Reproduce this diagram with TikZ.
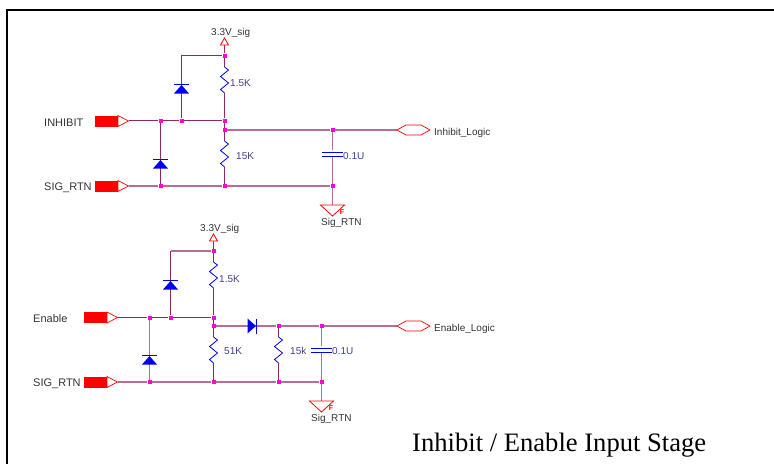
\documentclass[tikz,border=0pt]{standalone}
\usepackage{fontspec}
\setmainfont{Liberation Serif}
\newfontfamily\labelfont{Liberation Sans}
\usepackage{tikz}
\definecolor{wiredark}{HTML}{8E2A62}
\definecolor{wirelight}{HTML}{B56E98}
\definecolor{partblue}{HTML}{0000F0}
\definecolor{valueblue}{HTML}{40408C}
\definecolor{jnpink}{HTML}{FF00E0}
\tikzset{
  diodepart/.pic={
    \fill[partblue] (-7.5,4.5) -- (7.5,4.5) -- (0,-4) -- cycle;
    \draw[partblue,line width=.8pt] (-7.5,-4.5) -- (7.5,-4.5);
  },
  inport/.pic={
    \fill[red] (0,-5.5) rectangle (23,5.5);
    \draw[red,fill=white,line width=.7pt] (23,-5.5) -- (33.5,0) -- (23,5.5) -- cycle;
  },
  outport/.pic={
    \draw[red,fill=white,line width=.7pt] (0,0) -- (9,-5) -- (24,-5) -- (33,0) -- (24,5) -- (9,5) -- cycle;
  },
  powerpart/.pic={
    \draw[red,fill=white,line width=.8pt] (-4,7) -- (0,0) -- (4,7) -- cycle;
  },
  groundpart/.pic={
    \draw[red,fill=white,line width=.8pt] (-12,0) -- (12,0) -- (0,11) -- cycle;
    \node[text=red,font=\labelfont\bfseries,scale=.7] at (9.5,7) {F};
  },
  cappart/.pic={
    \draw[partblue,line width=.8pt] (-10.5,-2) -- (10.5,-2) (-10.5,2) -- (10.5,2);
  }
}
\begin{document}
\begin{tikzpicture}[x=1pt,y=-1pt]
\tikzstyle{every node}=[inner sep=0pt]
\tikzstyle{jn}=[fill=jnpink,minimum size=4pt]
\tikzstyle{wire}=[draw=wiredark,line width=1.1pt]
\tikzstyle{wirelt}=[draw=wirelight,line width=1.6pt]
\tikzstyle{res}=[draw=partblue,line width=.8pt]
\tikzstyle{txt}=[font=\labelfont\fontsize{10}{11}\selectfont,text=black!80,anchor=west,yshift=-1.5pt]
\tikzstyle{big}=[font=\labelfont\fontsize{11}{12}\selectfont,text=black!80,anchor=west,yshift=-1pt]
\tikzstyle{val}=[font=\labelfont\fontsize{10}{11}\selectfont,text=valueblue,anchor=west,yshift=-1pt]
\def \zig {-- ++(4,3) -- ++(-8,6.5) -- ++(8,6.5) -- ++(-8,6.5) -- ++(4,3.5)}
\useasboundingbox (0,0) rectangle (774,464);
\draw[line width=2pt] (6.5,464) -- (6.5,10) -- (774,10);

% inhibit stage
\node[jn] (j1top) at (224.5,55.5) {};
\node[jn] (j1in) at (224.5,120.5) {};
\node[jn] (j1d) at (181.5,120.5) {};
\node[jn] (j1a) at (160.5,120.5) {};
\node[jn] (j1mid) at (224.5,130) {};
\node[jn] (j1out) at (332.5,130) {};
\node[jn] (j1ra) at (160.5,186) {};
\node[jn] (j1rb) at (224.5,186) {};
\node[jn] (j1rc) at (332.5,186) {};
\coordinate (p1in) at (128.5,120.5);
\coordinate (p1rtn) at (128.5,186);
\coordinate (p1out) at (397,130);
\coordinate (p1pw) at (224.5,45);
\coordinate (p1dt) at (181.5,55.5);
\coordinate (p1gnd) at (332.5,205);
\coordinate (r1at) at (224.5,67);
\coordinate (r1ab) at (224.5,93);
\coordinate (r1bt) at (224.5,141);
\coordinate (r1bb) at (224.5,167);
\coordinate (c1t) at (332.5,150);
\coordinate (c1b) at (332.5,157);
\draw[wire] (p1pw) -- (j1top);
\draw[wire] (j1top) -- (p1dt) -- (j1d);
\draw[wire] (j1top) -- (r1at);
\draw[wire] (r1ab) -- (j1in);
\draw[wire] (j1in) -- (j1mid);
\draw[wire] (j1mid) -- (r1bt);
\draw[wire] (r1bb) -- (j1rb);
\draw[wire] (p1in) -- (j1a) -- (j1d) -- (j1in);
\draw[wire] (j1a) -- (j1ra);
\draw[wirelt] (j1mid) -- (j1out) -- (p1out);
\draw[wirelt] (p1rtn) -- (j1ra) -- (j1rb) -- (j1rc);
\draw[wirelt] (j1out) -- (c1t);
\draw[wirelt] (c1b) -- (j1rc);
\draw[wirelt] (j1rc) -- (p1gnd);
\draw[res] (r1at) \zig;
\draw[res] (r1bt) \zig;
\pic at (181.5,89) {diodepart};
\pic at (160.5,164) {diodepart};
\pic at (332.5,154) {cappart};
\pic at (95,121) {inport};
\pic at (95,186) {inport};
\pic at (397,130) {outport};
\pic at (224.5,38) {powerpart};
\pic at (332.5,205) {groundpart};
\node[big] (t1in) at (44,122) {INHIBIT};
\node[big] (t1rtn) at (44,187) {SIG\_RTN};
\node[txt] (t1pw) at (211,31) {3.3V\_sig};
\node[val] (t1ra) at (230,82) {1.5K};
\node[val] (t1rb) at (236,155) {15K};
\node[val] (t1c) at (343,155) {0.1U};
\node[txt] (t1out) at (434,131) {Inhibit\_Logic};
\node[txt] (t1gnd) at (321,221) {Sig\_RTN};

% enable stage
\node[jn] (j2top) at (213.5,251) {};
\node[jn] (j2in) at (213.5,317.5) {};
\node[jn] (j2d) at (170.5,317.5) {};
\node[jn] (j2a) at (149.5,317.5) {};
\node[jn] (j2mid) at (213.5,326) {};
\node[jn] (j2sa) at (278.5,326) {};
\node[jn] (j2out) at (321.5,326) {};
\node[jn] (j2ra) at (149.5,382) {};
\node[jn] (j2rb) at (213.5,382) {};
\node[jn] (j2rc) at (278.5,382) {};
\node[jn] (j2rd) at (321.5,382) {};
\coordinate (p2in) at (118,317.5);
\coordinate (p2rtn) at (118,382);
\coordinate (p2out) at (397,326);
\coordinate (p2pw) at (213.5,241);
\coordinate (p2dt) at (170.5,251);
\coordinate (p2gnd) at (321.5,401);
\coordinate (r2at) at (213.5,262);
\coordinate (r2ab) at (213.5,288);
\coordinate (r2bt) at (213.5,337);
\coordinate (r2bb) at (213.5,363);
\coordinate (r2ct) at (278.5,337);
\coordinate (r2cb) at (278.5,363);
\coordinate (c2t) at (321.5,346);
\coordinate (c2b) at (321.5,353);
\draw[wire] (p2pw) -- (j2top);
\draw[wirelt] (j2top) -- (p2dt);
\draw[wire] (p2dt) -- (j2d);
\draw[wire] (j2top) -- (r2at);
\draw[wire] (r2ab) -- (j2in);
\draw[wire] (j2in) -- (j2mid);
\draw[wire] (j2mid) -- (r2bt);
\draw[wire] (r2bb) -- (j2rb);
\draw[wire] (j2sa) -- (r2ct);
\draw[wire] (r2cb) -- (j2rc);
\draw[wire] (p2in) -- (j2a) -- (j2d) -- (j2in);
\draw[wirelt] (j2a) -- (j2ra);
\draw[wirelt] (j2mid) -- (j2sa) -- (j2out) -- (p2out);
\draw[wirelt] (p2rtn) -- (j2ra) -- (j2rb) -- (j2rc) -- (j2rd);
\draw[wirelt] (j2out) -- (c2t);
\draw[wirelt] (c2b) -- (j2rd);
\draw[wirelt] (j2rd) -- (p2gnd);
\draw[res] (r2at) \zig;
\draw[res] (r2bt) \zig;
\draw[res] (r2ct) \zig;
\pic at (170.5,285) {diodepart};
\pic at (149.5,360) {diodepart};
\pic[rotate=-90] at (252,326) {diodepart};
\pic at (321.5,350) {cappart};
\pic at (84,317.5) {inport};
\pic at (84,382) {inport};
\pic at (397,326) {outport};
\pic at (213.5,234) {powerpart};
\pic at (321.5,401) {groundpart};
\node[big] (t2in) at (33,318) {Enable};
\node[big] (t2rtn) at (33,383) {SIG\_RTN};
\node[txt] (t2pw) at (200,227) {3.3V\_sig};
\node[val] (t2ra) at (219,278) {1.5K};
\node[val] (t2rb) at (224,350) {51K};
\node[val] (t2rc) at (290,350) {15k};
\node[val] (t2c) at (332,350) {0.1U};
\node[txt] (t2out) at (434,327) {Enable\_Logic};
\node[txt] (t2gnd) at (311,417) {Sig\_RTN};

\node[font=\fontsize{26.6}{30}\selectfont,anchor=base west] (title) at (412,451) {Inhibit / Enable Input Stage};
\end{tikzpicture}
\end{document}
